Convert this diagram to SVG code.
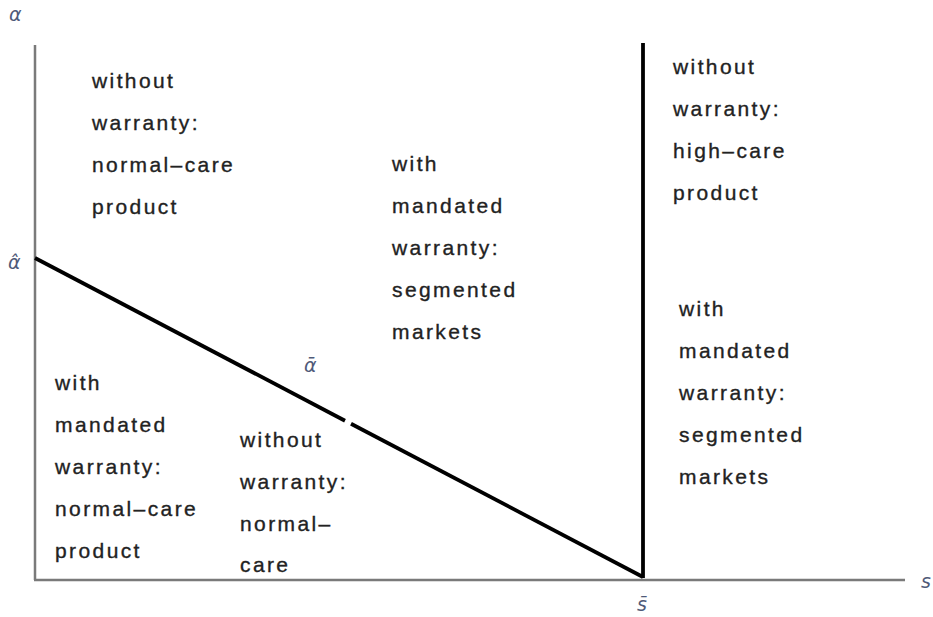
<svg xmlns="http://www.w3.org/2000/svg" width="933" height="617" viewBox="0 0 933 617">
<style>
.t{font-family:"Liberation Sans",Arial,sans-serif;font-size:21px;letter-spacing:2.4px;fill:#222;stroke:#222;stroke-width:0.35}
.g{font-family:"DejaVu Sans","Liberation Sans",sans-serif;font-style:italic;font-size:19px;fill:#4f5a78}
.ax{stroke:#7a7a7a;stroke-width:2.5;fill:none}
.bl{stroke:#000;stroke-width:3.8;fill:none}
</style>
<rect width="933" height="617" fill="#fff"/>
<g id="axes">
<line class="ax" x1="35" y1="45" x2="35" y2="580"/>
<line class="ax" x1="34" y1="580" x2="905" y2="580"/>
</g>
<g id="connectors">
<line class="bl" x1="35" y1="258" x2="345" y2="420.7"/>
<line class="bl" x1="351" y1="423.8" x2="643" y2="577"/>
<line class="bl" x1="643" y1="43" x2="643" y2="578"/>
</g>
<g id="labels">
<text class="g" x="9" y="21">α</text>
<text class="g" x="8" y="269">α̂</text>
<text class="g" x="304" y="372">ᾱ</text>
<text class="g" x="637" y="611">s̄</text>
<text class="g" x="921" y="588">s</text>
</g>
<g id="region-top-left">
<text class="t" x="92" y="88">without</text>
<text class="t" x="92" y="130">warranty:</text>
<text class="t" x="92" y="172">normal–care</text>
<text class="t" x="92" y="214">product</text>
</g>
<g id="region-middle">
<text class="t" x="392" y="171">with</text>
<text class="t" x="392" y="213">mandated</text>
<text class="t" x="392" y="255">warranty:</text>
<text class="t" x="392" y="297">segmented</text>
<text class="t" x="392" y="339">markets</text>
</g>
<g id="region-top-right">
<text class="t" x="673" y="74">without</text>
<text class="t" x="673" y="116">warranty:</text>
<text class="t" x="673" y="158">high–care</text>
<text class="t" x="673" y="200">product</text>
</g>
<g id="region-bottom-right">
<text class="t" x="679" y="316">with</text>
<text class="t" x="679" y="358">mandated</text>
<text class="t" x="679" y="400">warranty:</text>
<text class="t" x="679" y="442">segmented</text>
<text class="t" x="679" y="484">markets</text>
</g>
<g id="region-bottom-left">
<text class="t" x="55" y="390">with</text>
<text class="t" x="55" y="432">mandated</text>
<text class="t" x="55" y="474">warranty:</text>
<text class="t" x="55" y="516">normal–care</text>
<text class="t" x="55" y="558">product</text>
</g>
<g id="region-bottom-middle">
<text class="t" x="240" y="447">without</text>
<text class="t" x="240" y="489">warranty:</text>
<text class="t" x="240" y="531">normal–</text>
<text class="t" x="240" y="572">care</text>
</g>
</svg>
